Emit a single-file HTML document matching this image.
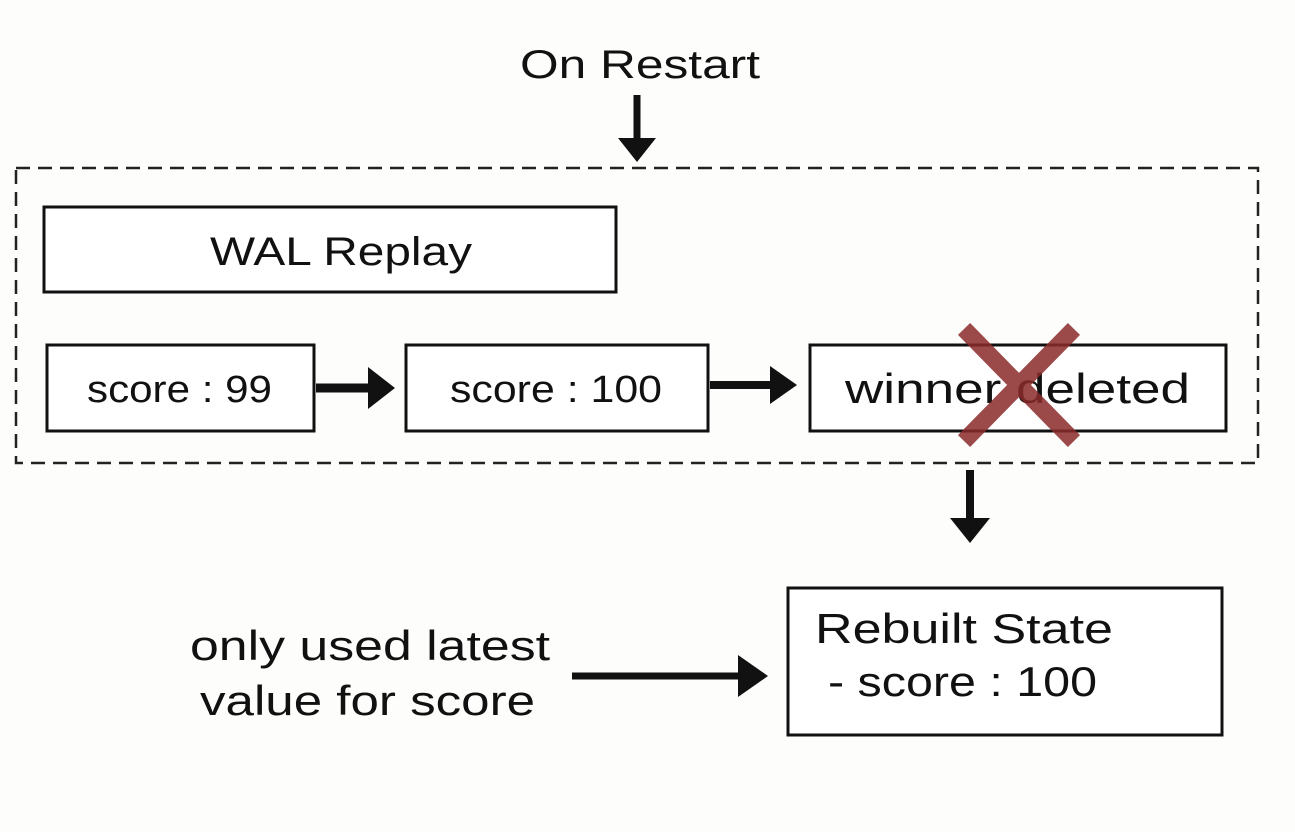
<!DOCTYPE html>
<html><head><meta charset="utf-8"><style>
html,body{margin:0;padding:0;background:#fdfdfc;}
svg{display:block;}
text{font-family:"Liberation Sans",sans-serif;fill:#111;}
</style></head><body>
<svg width="1295" height="832" viewBox="0 0 1295 832" xmlns="http://www.w3.org/2000/svg">
<rect width="1295" height="832" fill="#fdfdfc"/>
<text x="520" y="78" font-size="40" textLength="240" lengthAdjust="spacingAndGlyphs">On Restart</text>
<line x1="637" y1="95" x2="637" y2="142" stroke="#111" stroke-width="7"/>
<polygon points="618,138 656,138 637,162" fill="#111"/>
<rect x="16" y="168" width="1242" height="295" fill="none" stroke="#222" stroke-width="2.5" stroke-dasharray="14,8"/>
<rect x="44" y="207" width="572" height="85" fill="#fff" stroke="#111" stroke-width="3"/>
<text x="210" y="265" font-size="40" textLength="262" lengthAdjust="spacingAndGlyphs">WAL Replay</text>
<rect x="47" y="345" width="267" height="86" fill="#fff" stroke="#111" stroke-width="3"/>
<text x="87" y="402" font-size="38" textLength="185" lengthAdjust="spacingAndGlyphs">score : 99</text>
<line x1="316" y1="388" x2="372" y2="388" stroke="#111" stroke-width="9"/>
<polygon points="368,367 395,388 368,409" fill="#111"/>
<rect x="406" y="345" width="302" height="86" fill="#fff" stroke="#111" stroke-width="3"/>
<text x="450" y="402" font-size="38" textLength="212" lengthAdjust="spacingAndGlyphs">score : 100</text>
<line x1="710" y1="385" x2="775" y2="385" stroke="#111" stroke-width="8"/>
<polygon points="770,366 797,385 770,404" fill="#111"/>
<rect x="810" y="345" width="416" height="86" fill="#fff" stroke="#111" stroke-width="3"/>
<text x="845" y="403" font-size="42" textLength="345" lengthAdjust="spacingAndGlyphs">winner deleted</text>
<g stroke="#8b2a2a" stroke-width="17" opacity="0.85" stroke-linecap="square">
<line x1="970" y1="335" x2="1068" y2="435"/>
<line x1="1068" y1="335" x2="970" y2="435"/>
</g>
<line x1="970" y1="470" x2="970" y2="522" stroke="#111" stroke-width="8"/>
<polygon points="950,518 990,518 970,543" fill="#111"/>
<rect x="788" y="588" width="434" height="147" fill="#fff" stroke="#111" stroke-width="3"/>
<text x="815" y="643" font-size="42" textLength="298" lengthAdjust="spacingAndGlyphs">Rebuilt State</text>
<text x="828" y="696" font-size="42" textLength="269" lengthAdjust="spacingAndGlyphs">- score : 100</text>
<text x="190" y="660" font-size="42" textLength="360" lengthAdjust="spacingAndGlyphs">only used latest</text>
<text x="200" y="715" font-size="42" textLength="335" lengthAdjust="spacingAndGlyphs">value for score</text>
<line x1="572" y1="676" x2="745" y2="676" stroke="#111" stroke-width="7"/>
<polygon points="738,655 768,676 738,697" fill="#111"/>
</svg>
</body></html>
